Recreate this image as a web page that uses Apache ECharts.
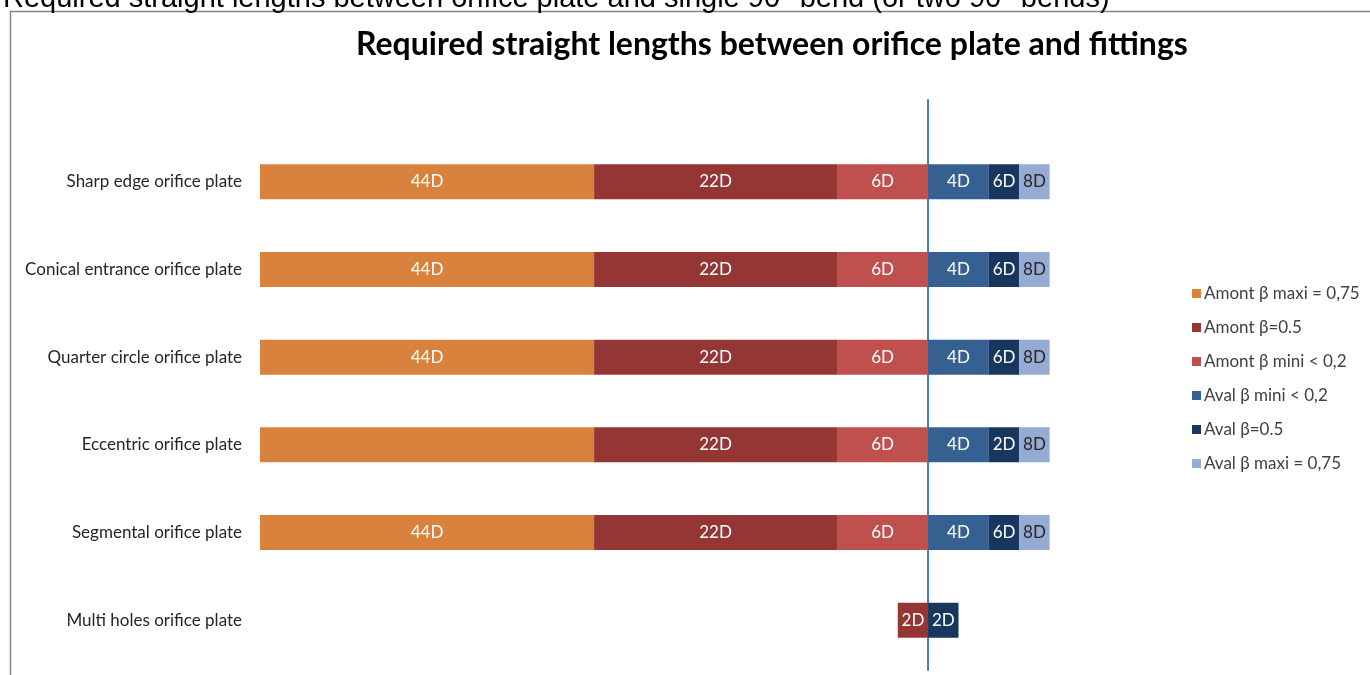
<!DOCTYPE html>
<html>
<head>
<meta charset="utf-8">
<script src="https://cdn.jsdelivr.net/npm/echarts@6/dist/echarts.min.js"></script>
<style>
html,body{margin:0;padding:0;background:#fff;}
#chart{width:1370px;height:675px;}
</style>
</head>
<body>
<div id="chart"></div>
<script>
// Categories (top to bottom)
const categories = [
  'Sharp edge orifice plate',
  'Conical entrance orifice plate',
  'Quarter circle orifice plate',
  'Eccentric orifice plate',
  'Segmental orifice plate',
  'Multi holes orifice plate'
];
// Segment lengths (in D) – upstream negative, downstream positive
const amontMini  = [-6, -6, -6, -6, -6, 0];
const amont05    = [-16, -16, -16, -16, -16, -2];
const amontMaxi  = [-22, -22, -22, -22, -22, 0];
const avalMini   = [4, 4, 4, 4, 4, 0];
const aval05     = [2, 2, 2, 2, 2, 2];
const avalMaxi   = [2, 2, 2, 2, 2, 0];
// Labels shown in the segments
const lblAmontMini = ['6D', '6D', '6D', '6D', '6D', ''];
const lblAmont05   = ['22D', '22D', '22D', '22D', '22D', '2D'];
const lblAmontMaxi = ['44D', '44D', '44D', '', '44D', ''];
const lblAvalMini  = ['4D', '4D', '4D', '4D', '4D', ''];
const lblAval05    = ['6D', '6D', '6D', '2D', '6D', '2D'];
const lblAvalMaxi  = ['8D', '8D', '8D', '8D', '8D', ''];

const seriesNames = [
  'Amont β mini < 0,2', 'Amont β=0.5', 'Amont β maxi = 0,75',
  'Aval β mini < 0,2', 'Aval β=0.5', 'Aval β maxi = 0,75'
];
const legendOrder = [
  'Amont β maxi = 0,75', 'Amont β=0.5', 'Amont β mini < 0,2',
  'Aval β mini < 0,2', 'Aval β=0.5', 'Aval β maxi = 0,75'
];
const colors = ['#C0504D', '#943634', '#D9823E', '#376092', '#17375E', '#95ABD3'];
const values = [amontMini, amont05, amontMaxi, avalMini, aval05, avalMaxi];
const labels = [lblAmontMini, lblAmont05, lblAmontMaxi, lblAvalMini, lblAval05, lblAvalMaxi];
const labelColors = ['#fff', '#fff', '#fff', '#fff', '#fff', '#262626'];

const FONT = 'Lato';

const series = seriesNames.map((name, i) => ({
  name: name,
  type: 'bar',
  stack: 'total',
  xAxisIndex: 0,
  yAxisIndex: 0,
  barWidth: 35,
  itemStyle: { color: colors[i] },
  data: values[i].map(v => (v === 0 ? '-' : v)),
  label: {
    show: true,
    position: 'inside',
    color: labelColors[i],
    fontFamily: FONT,
    fontSize: 17,
    formatter: p => labels[i][p.dataIndex]
  },
  emphasis: { disabled: true }
}));

const chart = echarts.init(document.getElementById('chart'));
chart.setOption({
  animation: false,
  title: [
    {
      text: 'Required straight lengths between orifice plate and single 90° bend (or two 90° bends)',
      left: -2, top: -21,
      textStyle: { fontFamily: 'Liberation Sans', fontWeight: 'normal', fontSize: 29, color: '#000' }
    },
    {
      text: 'Required straight lengths between orifice plate and fittings',
      left: 351, top: 24,
      textStyle: { fontFamily: FONT, fontWeight: 'bold', fontSize: 32, color: '#000' }
    }
  ],
  graphic: [{
    type: 'rect',
    shape: { x: 10.5, y: 11.5, width: 1400, height: 700 },
    style: { fill: 'none', stroke: '#868686', lineWidth: 1.5 },
    silent: true
  }],
  legend: {
    data: legendOrder,
    orient: 'vertical',
    left: 1187,
    top: 280,
    itemWidth: 9,
    itemHeight: 9,
    itemGap: 17,
    icon: 'rect',
    textStyle: { fontFamily: FONT, fontSize: 17, color: '#404040', padding: [0, 0, 0, -2] }
  },
  grid: [
    { left: 260, right: 290, top: 138, bottom: 11 },
    { left: 260, right: 290, top: 100, bottom: 5 }
  ],
  xAxis: [
    { type: 'value', gridIndex: 0, min: -44, max: 10, show: false },
    { type: 'value', gridIndex: 1, min: -44, max: 10, show: false }
  ],
  yAxis: [
    {
      type: 'category', gridIndex: 0, inverse: true, data: categories,
      position: 'left',
      axisLine: { show: false }, axisTick: { show: false },
      axisLabel: { fontFamily: FONT, fontSize: 17, color: '#262626', margin: 18 }
    },
    {
      type: 'category', gridIndex: 1, data: [''],
      axisLine: { show: true, onZero: true, lineStyle: { color: '#4A7EBB', width: 2 } },
      axisTick: { show: false }, axisLabel: { show: false }
    }
  ],
  series: series
});
</script>
</body>
</html>
